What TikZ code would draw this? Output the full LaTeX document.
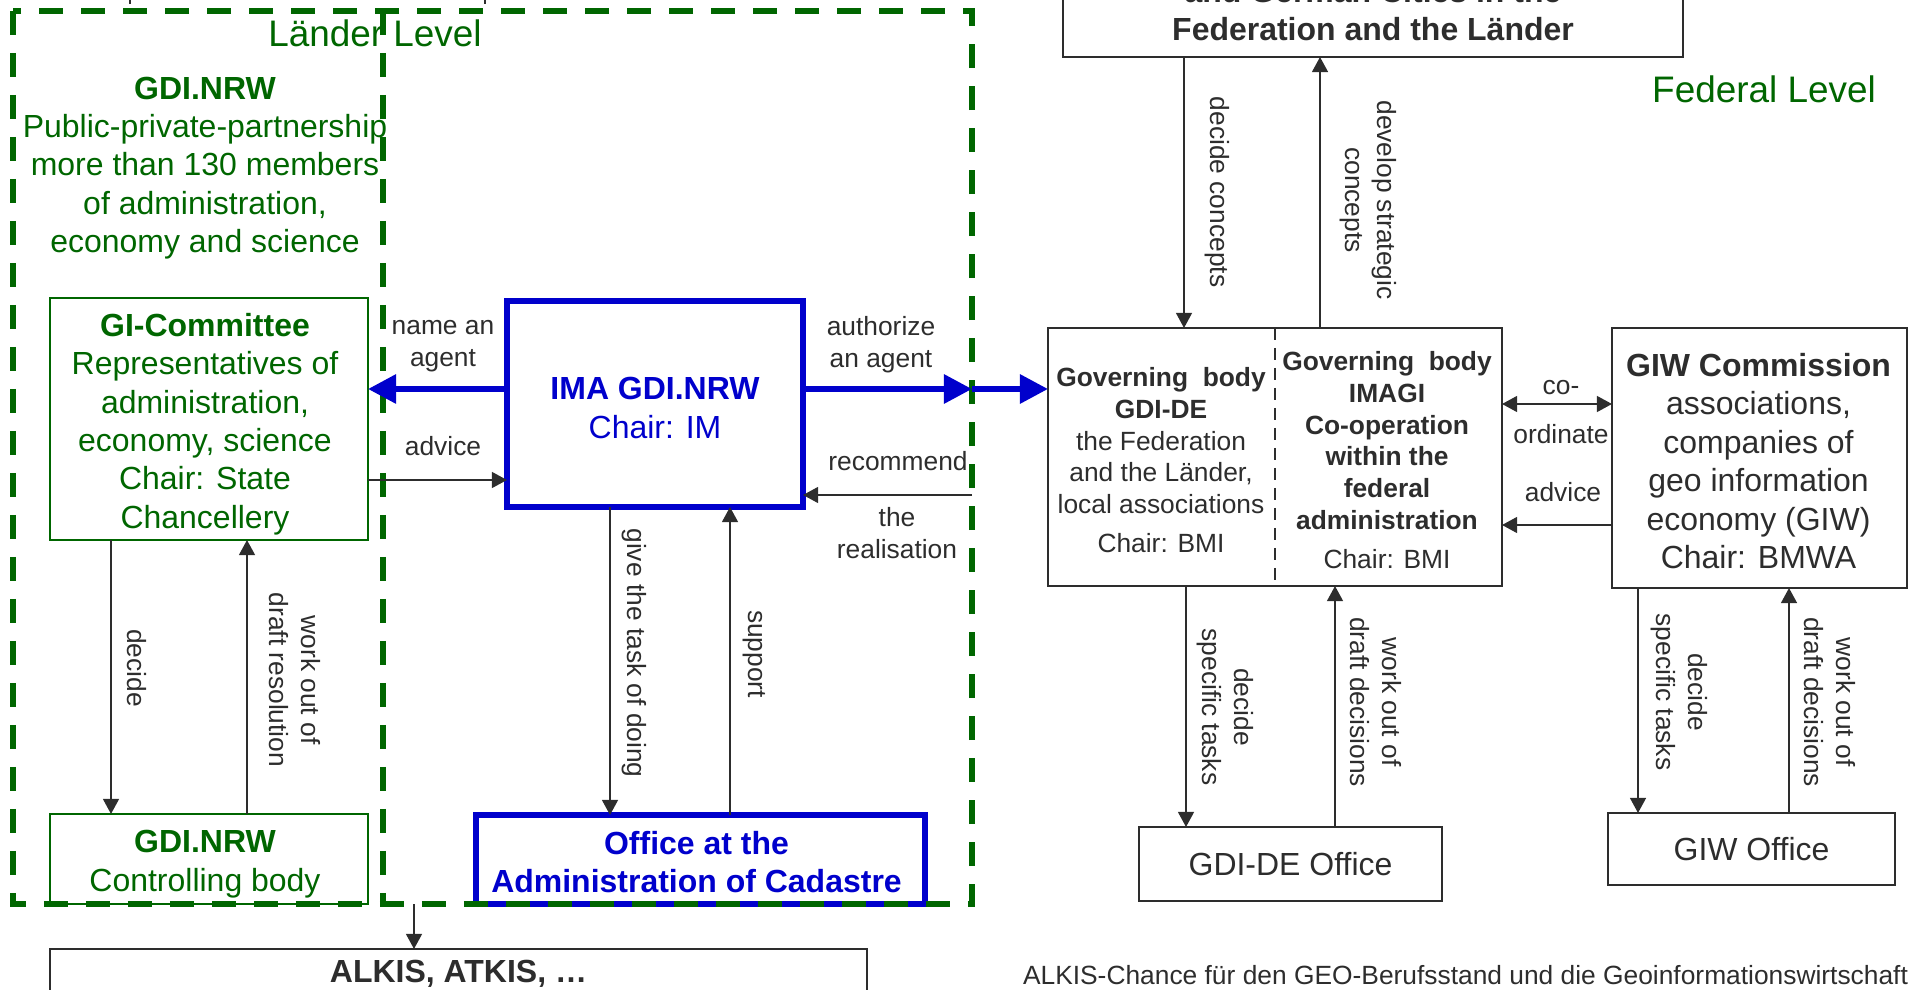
\documentclass[tikz,border=0pt]{standalone}
\usepackage{fontspec}
\setmainfont{Liberation Sans}
\usetikzlibrary{arrows.meta}
\definecolor{dgreen}{RGB}{0,102,0}
\definecolor{dblue}{RGB}{0,0,204}
\definecolor{dgray}{RGB}{45,45,45}
\newcommand\FontBody{\fontsize{9.1pt}{10.93pt}\selectfont}
\newcommand\FontSmall{\fontsize{7.5pt}{9.02pt}\selectfont}
\newcommand\FontLevel{\fontsize{10.5pt}{12.6pt}\selectfont}
\begin{document}
\begin{tikzpicture}[x=0.1mm,y=-0.1mm,
  every node/.style={inner sep=0pt, outer sep=0pt},
  gbox/.style={draw=dgreen, line width=0.6pt},
  bbox/.style={draw=dblue, line width=1.7pt},
  kbox/.style={draw=dgray, line width=0.75pt, text=dgray, font=\FontBody, align=center},
  gtext/.style={text=dgreen, font=\FontBody, align=center},
  btext/.style={text=dblue, font=\FontBody, align=center},
  ktext/.style={text=dgray, font=\FontSmall, align=center},
  lab/.style={text=dgray, font=\FontSmall, align=center},
  vlab/.style={lab, rotate=-90},
  tarrow/.style={draw=dgray, line width=0.6pt, -{Triangle[length=4.3pt,width=4.5pt]}},
  tdarrow/.style={draw=dgray, line width=0.6pt, {Triangle[length=4.3pt,width=4.5pt]}-{Triangle[length=4.3pt,width=4.5pt]}},
  barrow/.style={draw=dblue, line width=1.7pt, -{Triangle[length=8pt,width=8pt]}},
  lframe/.style={draw=dgreen, line width=1.7pt, dash pattern=on 2.4mm off 1.8mm},
]
\useasboundingbox (0,0) rectangle (1910,990);
\clip (0,0) rectangle (1910,990);

% ---------- boxes, Länder level ----------
\node[gbox, minimum width=31.8mm, minimum height=24.2mm] (gic) at (209,419) {};
\node[gtext] (gict) at (205,424)
  {\textbf{GI-Committee}\\Representatives of\\administration,\\economy, science\\Chair: State\\Chancellery};
\node[gbox, minimum width=31.8mm, minimum height=9mm] (ctrl) at (209,859) {};
\node[gtext] (ctrlt) at (205,864) {\textbf{GDI.NRW}\\Controlling body};
\node[bbox, minimum width=29.6mm, minimum height=20.6mm] (ima) at (655,404) {};
\node[btext] (imat) at (655,408) {\textbf{IMA GDI.NRW}\\Chair: IM};
\node[bbox, minimum width=44.9mm, minimum height=8.9mm] (office) at (700.5,859.5) {};
\node[btext, font=\FontBody\bfseries] (officet) at (696.5,862)
  {Office at the\\Administration of Cadastre};
\node[kbox, minimum width=81.7mm, minimum height=5mm, font=\FontBody\bfseries] (alkis) at (458.5,974)
  {ALKIS, ATKIS, \dots};

\node[gtext] (gdinrw) at (205,168)
  {\textbf{GDI.NRW}\\Public-private-partnership\\more than 130 members\\of administration,\\economy and science};
\node[text=dgreen, font=\FontLevel, anchor=base] (ll) at (375,47) {Länder Level};

% ---------- boxes, federal level ----------
\node[kbox, minimum width=62mm, minimum height=9.4mm, font=\FontBody\bfseries] (top) at (1373,10)
  {and German Cities in the\\Federation and the Länder};
\node[text=dgreen, font=\FontLevel, anchor=base] (fl) at (1764,103) {Federal Level};

\node[kbox, minimum width=45.4mm, minimum height=25.8mm] (gov) at (1275,457) {};
\draw[dgray, line width=0.5pt, dash pattern=on 1.2mm off 0.8mm] (gov.north) -- (gov.south);
\node[ktext] (govl) at (1161,460)
  {\textbf{Governing\ \ body}\\\textbf{GDI-DE}\\the Federation\\and the Länder,\\local associations\\[2pt]Chair: BMI};
\node[ktext] (govr) at (1387,460)
  {\textbf{Governing\ \ body}\\\textbf{IMAGI}\\\textbf{Co-operation}\\\textbf{within the}\\\textbf{federal}\\\textbf{administration}\\[2pt]Chair: BMI};

\node[kbox, minimum width=29.5mm, minimum height=26mm] (giw) at (1759.5,458) {};
\node[text=dgray, font=\FontBody, align=center] (giwt) at (1758.5,461)
  {\textbf{GIW Commission}\\associations,\\companies of\\geo information\\economy (GIW)\\Chair: BMWA};
\node[kbox, minimum width=30.3mm, minimum height=7.4mm] (gdioff) at (1290.5,864) {GDI-DE Office};
\node[kbox, minimum width=28.7mm, minimum height=7.2mm] (giwoff) at (1751.5,849) {GIW Office};

\node[lab, anchor=west] (cap) at (1023,975)
  {ALKIS-Chance für den GEO-Berufsstand und die Geoinformationswirtschaft};

% tiny marks cut at the top edge
\draw[dgray, line width=0.6pt] (130,0) -- (130,4);
\draw[dgray, line width=0.6pt] (485,0) -- (485,4);

% ---------- Länder frame ----------
\draw[lframe] (13,11) rectangle (972,904);
\draw[lframe] (383,11) -- (383,904);
\coordinate (b1) at (972,389);
\coordinate (b2) at (972,495);
\coordinate (b3) at (414,904);

% helper coordinates
\coordinate (yb) at (0,389);
\coordinate (yadv) at (0,480);
\coordinate (xdec) at (111,0);
\coordinate (xwork) at (247,0);
\coordinate (xgive) at (610,0);
\coordinate (xsup) at (730,0);
\coordinate (xdc) at (1184,0);
\coordinate (xds) at (1320,0);
\coordinate (xst) at (1186,0);
\coordinate (xwd) at (1335,0);
\coordinate (xgst) at (1638,0);
\coordinate (xgwd) at (1789,0);
\coordinate (ycoo) at (0,404);
\coordinate (yadv2) at (0,525);

% ---------- connectors ----------
\draw[barrow] (ima.west |- yb) -- (gic.east |- yb);
\draw[barrow] (ima.east |- yb) -- (b1);
\draw[barrow] (b1) -- (gov.west |- b1);
\draw[tarrow] (gic.east |- yadv) -- (ima.west |- yadv);
\draw[tarrow] (b2) -- (ima.east |- b2);
\draw[tarrow] (gic.south -| xdec) -- (ctrl.north -| xdec);
\draw[tarrow] (ctrl.north -| xwork) -- (gic.south -| xwork);
\draw[tarrow] (ima.south -| xgive) -- (office.north -| xgive);
\draw[tarrow] (office.north -| xsup) -- (ima.south -| xsup);
\draw[tarrow] (b3) -- (alkis.north -| b3);
\draw[tarrow] (top.south -| xdc) -- (gov.north -| xdc);
\draw[tarrow] (gov.north -| xds) -- (top.south -| xds);
\draw[tarrow] (gov.south -| xst) -- (gdioff.north -| xst);
\draw[tarrow] (gdioff.north -| xwd) -- (gov.south -| xwd);
\draw[tarrow] (giw.south -| xgst) -- (giwoff.north -| xgst);
\draw[tarrow] (giwoff.north -| xgwd) -- (giw.south -| xgwd);
\draw[tdarrow] (gov.east |- ycoo) -- (giw.west |- ycoo);
\draw[tarrow] (giw.west |- yadv2) -- (gov.east |- yadv2);

% ---------- connector labels ----------
\node[lab] (l1) at (443,346) {name an\\agent};
\node[lab] (l2) at (443,446) {advice};
\node[lab] (l3) at (881,345) {authorize\\an agent};
\node[lab] (l4) at (898,461) {recommend};
\node[lab] (l5) at (897,533) {the\\realisation};
\node[lab] (l6) at (1561,388) {co-};
\node[lab] (l7) at (1561,434) {ordinate};
\node[lab] (l8) at (1563,492) {advice};
\node[vlab] (v1) at (137,668) {decide};
\node[vlab] (v2) at (295,680) {work out of\\draft resolution};
\node[vlab] (v3) at (634,653) {give the task of doing};
\node[vlab] (v4) at (754,654) {support};
\node[vlab] (v5) at (1217,192) {decide concepts};
\node[vlab] (v6) at (1368,200) {develop strategic\\concepts};
\node[vlab] (v7) at (1225,707) {decide\\specific tasks};
\node[vlab] (v8) at (1376,702) {work out of\\draft decisions};
\node[vlab] (v9) at (1679,692) {decide\\specific tasks};
\node[vlab] (v10) at (1830,702) {work out of\\draft decisions};
\end{tikzpicture}
\end{document}
